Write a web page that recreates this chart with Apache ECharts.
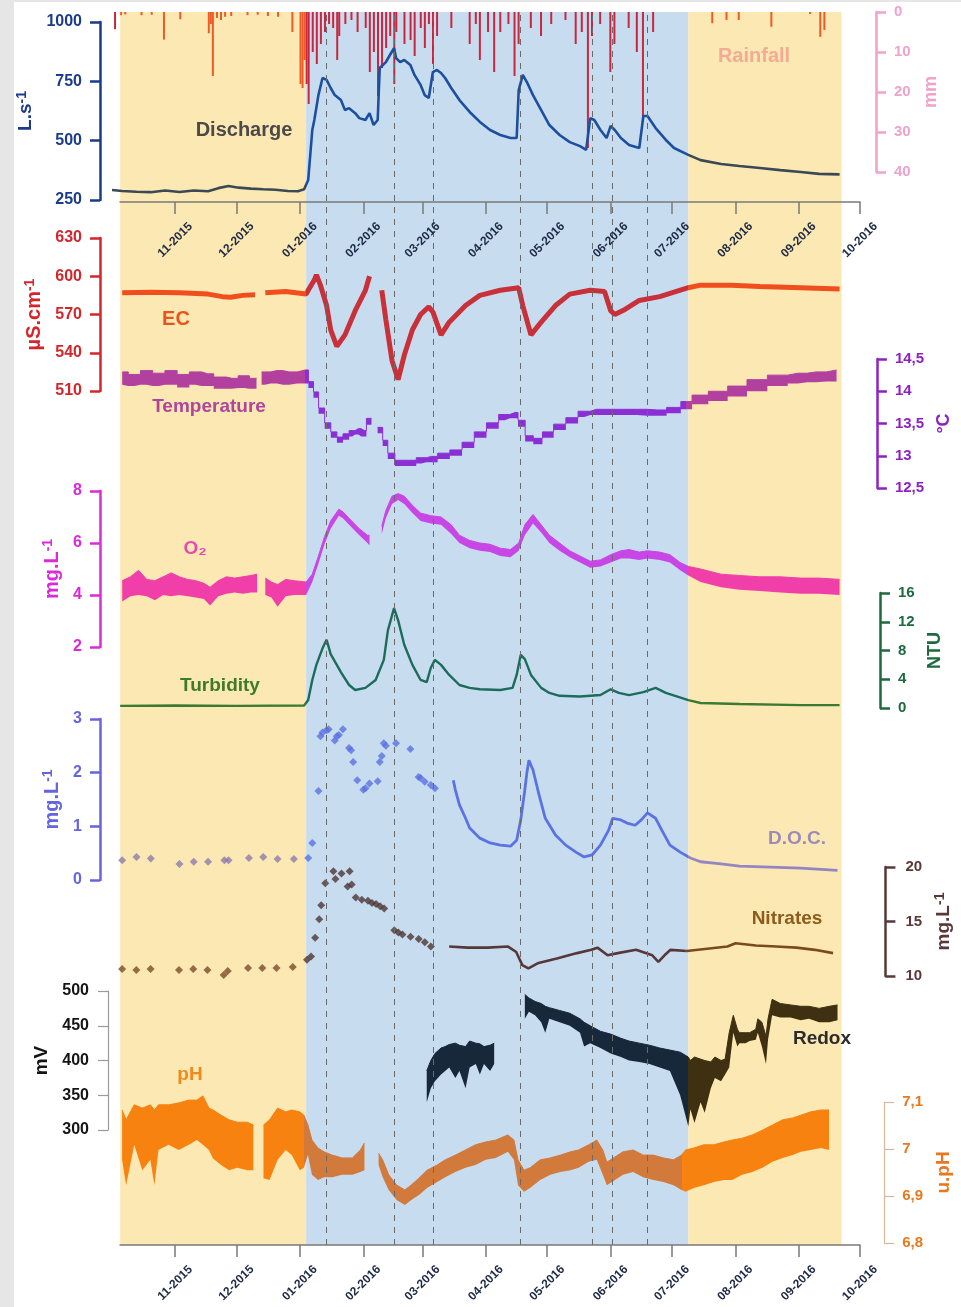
<!DOCTYPE html>
<html lang="en">
<head>
<meta charset="UTF-8">
<title>Spring monitoring 2015-2016</title>
<style>
  html, body { margin: 0; background: #e6e6e6; }
  #sheet { position: absolute; left: 14px; top: 2px; width: 947px; height: 1305px; background: #fff; }
  #main { position: absolute; left: 0; top: 0; width: 961px; height: 1307px; }
</style>
</head>
<body>
<div id="sheet"></div>
<div id="main"></div>
<script src="https://cdn.jsdelivr.net/npm/echarts@6.0.0/dist/echarts.min.js"></script>
<script>
// ---- periods ----
const dryStart = '2015-10-05';
const wetStart = '2016-01-04';
const wetEnd = '2016-07-09';
const dryEnd = '2016-09-22';
const floodDates = ['2016-01-14', '2016-02-16', '2016-03-06', '2016-04-18', '2016-05-23', '2016-06-02', '2016-06-19'];
const monthTicks = ['2015-11-01', '2015-12-01', '2016-01-01', '2016-02-01', '2016-03-01', '2016-04-01',
  '2016-05-01', '2016-06-01', '2016-07-01', '2016-08-01', '2016-09-01', '2016-10-01'];

// ---- discharge (L/s) ----
const discharge = [['2015-10-01',292],['2015-10-06',288],['2015-10-13',285],['2015-10-20',283],['2015-10-27',290],['2015-11-03',284],['2015-11-10',290],['2015-11-17',287],['2015-11-22',300],['2015-11-27',309],['2015-12-02',302],['2015-12-08',298],['2015-12-14',295],['2015-12-20',293],['2015-12-26',288],['2015-12-31',287],['2016-01-03',295],['2016-01-05',334],['2016-01-07',545],['2016-01-08',587],['2016-01-10',692],['2016-01-12',764],['2016-01-14',756],['2016-01-16',722],['2016-01-18',692],['2016-01-21',671],['2016-01-23',629],['2016-01-25',637],['2016-01-28',616],['2016-01-30',595],['2016-02-02',587],['2016-02-04',616],['2016-02-06',566],['2016-02-08',587],['2016-02-09',806],['2016-02-12',831],['2016-02-14',861],['2016-02-16',890],['2016-02-17',848],['2016-02-19',831],['2016-02-21',840],['2016-02-24',819],['2016-02-26',777],['2016-02-29',735],['2016-03-02',692],['2016-03-04',680],['2016-03-06',789],['2016-03-08',798],['2016-03-10',785],['2016-03-12',764],['2016-03-15',722],['2016-03-19',671],['2016-03-24',621],['2016-03-29',579],['2016-04-03',545],['2016-04-08',524],['2016-04-13',511],['2016-04-16',511],['2016-04-17',713],['2016-04-19',777],['2016-04-21',747],['2016-04-24',692],['2016-04-28',629],['2016-05-02',566],['2016-05-07',524],['2016-05-12',494],['2016-05-17',477],['2016-05-20',461],['2016-05-22',595],['2016-05-24',587],['2016-05-27',545],['2016-05-30',511],['2016-06-01',562],['2016-06-03',545],['2016-06-06',511],['2016-06-10',482],['2016-06-15',469],['2016-06-17',604],['2016-06-19',604],['2016-06-23',553],['2016-06-28',503],['2016-07-02',469],['2016-07-09',440],['2016-07-15',418],['2016-07-25',402],['2016-08-03',393],['2016-08-13',385],['2016-08-23',376],['2016-09-02',368],['2016-09-11',360],['2016-09-21',358]];

// ---- rainfall (mm) ----
const rainfall = [['2015-10-02',4.3],['2015-10-05',0.8],['2015-10-07',0.6],['2015-10-15',0.8],['2015-10-20',0.7],['2015-10-26',6.9],['2015-11-03',1.8],['2015-11-17',5.3],['2015-11-18',3],['2015-11-19',16],['2015-11-21',1.5],['2015-11-23',2],['2015-11-25',1.2],['2015-11-28',1],['2015-12-06',0.8],['2015-12-11',0.7],['2015-12-16',1],['2015-12-21',1.2],['2015-12-28',5],['2016-01-01',18],['2016-01-02',19],['2016-01-03',12],
  ['2016-01-04',18],['2016-01-05',23],['2016-01-07',10],['2016-01-09',13],['2016-01-11',8],['2016-01-13',5],['2016-01-15',3],['2016-01-17',4],['2016-01-19',12],['2016-01-20',6],['2016-01-23',3],['2016-01-26',2],['2016-01-29',5],['2016-02-02',4],['2016-02-04',15],['2016-02-06',10],['2016-02-08',21],['2016-02-10',14],['2016-02-12',9],['2016-02-14',6],['2016-02-16',18],['2016-02-17',5],['2016-02-21',8],['2016-02-24',7],['2016-02-26',11],['2016-02-29',4],['2016-03-02',9],['2016-03-04',3],['2016-03-06',13],['2016-03-08',6],['2016-03-15',4],['2016-03-24',8],['2016-03-27',3],['2016-03-29',12],['2016-04-02',5],['2016-04-05',15],['2016-04-08',5],['2016-04-12',3],['2016-04-15',16],['2016-04-17',8],['2016-04-23',4],['2016-04-28',6],['2016-05-03',3],['2016-05-10',2],['2016-05-15',8],['2016-05-18',5],['2016-05-21',34],['2016-05-23',6],['2016-05-27',3],['2016-06-01',15],['2016-06-03',8],['2016-06-10',4],['2016-06-14',10],['2016-06-17',26],['2016-06-22',5],
  ['2016-07-21',2.8],['2016-07-28',2],['2016-08-03',2],['2016-08-19',3.7],['2016-09-07',0.5],['2016-09-12',6.2],['2016-09-14',4.5]];

// ---- electrical conductivity (uS/cm) ----
const ec = [['2015-10-06',587],['2015-10-20',587.5],['2015-11-03',587],['2015-11-17',586],['2015-11-24',584],['2015-11-28',583.5],['2015-12-04',585],['2015-12-10',585.5],['2015-12-12',null],['2015-12-15',587],['2015-12-25',588],['2016-01-04',586],['2016-01-05',589],['2016-01-08',597],['2016-01-09',601],['2016-01-11',593],['2016-01-14',577],['2016-01-16',558],['2016-01-19',545],['2016-01-23',554],['2016-01-28',573],['2016-02-02',589],['2016-02-04',600],['2016-02-07',null],['2016-02-10',589],['2016-02-12',566],['2016-02-15',534],['2016-02-18',519],['2016-02-21',538],['2016-02-25',558],['2016-02-29',570],['2016-03-04',576],['2016-03-06',572],['2016-03-10',554],['2016-03-14',564],['2016-03-22',577],['2016-03-29',585],['2016-04-08',589],['2016-04-17',591],['2016-04-19',577],['2016-04-23',554],['2016-04-28',564],['2016-05-05',577],['2016-05-12',586],['2016-05-22',589],['2016-05-29',588],['2016-06-01',573],['2016-06-03',570],['2016-06-08',574],['2016-06-15',581],['2016-06-25',584],['2016-07-09',591],['2016-07-15',593],['2016-07-30',593],['2016-08-13',592],['2016-09-02',591],['2016-09-21',590]];

// ---- temperature (degC), min / max envelope ----
const tempDates = ['2015-10-06','2015-10-12','2015-10-18','2015-10-24','2015-10-30','2015-11-05','2015-11-11','2015-11-17','2015-11-23','2015-11-29','2015-12-05','2015-12-10','2015-12-12','2015-12-15','2015-12-21','2015-12-27','2016-01-04','2016-01-07','2016-01-09','2016-01-12','2016-01-15','2016-01-18','2016-01-21','2016-01-24','2016-01-27','2016-01-30','2016-02-02','2016-02-04','2016-02-07','2016-02-10','2016-02-12','2016-02-15','2016-02-19','2016-02-25','2016-03-01','2016-03-06','2016-03-12','2016-03-18','2016-03-24','2016-03-30','2016-04-05','2016-04-11','2016-04-16','2016-04-19','2016-04-23','2016-04-27','2016-05-02','2016-05-08','2016-05-14','2016-05-20','2016-05-26','2016-06-05','2016-06-15','2016-06-25','2016-07-04','2016-07-09','2016-07-15','2016-07-25','2016-08-03','2016-08-13','2016-08-23','2016-09-02','2016-09-11','2016-09-21'];
const tempLow = [14.1,14.08,14.1,14.08,14.1,14.06,14.1,14.08,14.04,14.04,14.05,14.04,null,14.1,14.12,14.1,14.12,14.05,13.9,13.65,13.42,13.28,13.2,13.25,13.3,13.33,13.3,13.48,null,13.35,13.15,12.95,12.84,12.84,12.88,12.9,12.95,13.0,13.12,13.28,13.42,13.55,13.58,13.45,13.22,13.18,13.28,13.4,13.5,13.6,13.63,13.63,13.63,13.62,13.66,13.72,13.8,13.85,13.92,14.0,14.08,14.12,14.14,14.15];
const tempHigh = [14.3,14.26,14.32,14.28,14.32,14.26,14.3,14.27,14.22,14.2,14.24,14.2,null,14.3,14.32,14.3,14.33,14.15,13.99,13.74,13.51,13.37,13.29,13.34,13.39,13.42,13.39,13.58,null,13.44,13.24,13.04,12.93,12.93,12.97,12.99,13.04,13.09,13.21,13.37,13.51,13.64,13.67,13.55,13.31,13.27,13.37,13.49,13.59,13.69,13.72,13.72,13.72,13.71,13.75,13.84,13.94,14.0,14.08,14.18,14.25,14.28,14.3,14.33];

// ---- dissolved oxygen (mg/L), min / max envelope ----
const o2Dates = ['2015-10-06','2015-10-10','2015-10-14','2015-10-18','2015-10-22','2015-10-26','2015-10-30','2015-11-03','2015-11-07','2015-11-11','2015-11-15','2015-11-18','2015-11-22','2015-11-26','2015-11-30','2015-12-04','2015-12-08','2015-12-11','2015-12-13','2015-12-15','2015-12-18','2015-12-21','2015-12-25','2015-12-29','2016-01-04','2016-01-07','2016-01-10','2016-01-13','2016-01-16','2016-01-20','2016-01-22','2016-01-25','2016-01-30','2016-02-03','2016-02-04','2016-02-07','2016-02-10','2016-02-12','2016-02-15','2016-02-18','2016-02-21','2016-02-25','2016-02-29','2016-03-05','2016-03-10','2016-03-15','2016-03-19','2016-03-24','2016-03-29','2016-04-03','2016-04-08','2016-04-13','2016-04-17','2016-04-20','2016-04-24','2016-04-28','2016-05-02','2016-05-07','2016-05-12','2016-05-17','2016-05-22','2016-05-27','2016-06-01','2016-06-06','2016-06-10','2016-06-15','2016-06-19','2016-06-25','2016-06-30','2016-07-05','2016-07-09','2016-07-15','2016-07-25','2016-08-03','2016-08-13','2016-08-23','2016-09-02','2016-09-11','2016-09-21'];
const o2Low = [3.75,3.95,4.0,3.95,3.8,4.0,3.95,4.0,3.95,3.9,3.85,3.6,3.95,4.05,4.1,4.05,4.1,4.1,null,4.0,3.9,3.55,3.95,4.0,4.0,4.5,5.2,5.95,6.55,7.05,6.95,6.7,6.3,6.0,5.9,null,6.35,6.95,7.5,7.65,7.5,7.15,6.85,6.75,6.7,6.35,6.0,5.8,5.7,5.65,5.5,5.45,5.7,6.3,6.75,6.4,6.0,5.7,5.45,5.25,5.05,5.1,5.25,5.4,5.4,5.35,5.4,5.35,5.25,4.95,4.75,4.5,4.3,4.2,4.15,4.1,4.05,4.05,4.0];
const o2High = [4.55,4.7,4.95,4.6,4.55,4.7,4.85,4.7,4.6,4.55,4.45,4.3,4.55,4.7,4.65,4.7,4.75,4.8,null,4.65,4.5,4.4,4.6,4.55,4.5,4.8,5.5,6.25,6.85,7.3,7.2,6.95,6.55,6.3,6.3,null,6.65,7.25,7.8,7.9,7.8,7.45,7.15,7.05,7.0,6.7,6.3,6.1,6.0,5.95,5.8,5.75,6.0,6.7,7.1,6.7,6.3,6.0,5.7,5.5,5.3,5.35,5.55,5.7,5.75,5.65,5.7,5.65,5.55,5.25,5.1,5.0,4.8,4.75,4.7,4.7,4.65,4.65,4.6];

// ---- turbidity (NTU) ----
const turbidity = [['2015-10-05',0.3],['2015-11-01',0.35],['2015-12-01',0.3],['2016-01-03',0.35],['2016-01-05',1.1],['2016-01-07',3.9],['2016-01-09',6],['2016-01-12',8.3],['2016-01-14',9.5],['2016-01-16',7.5],['2016-01-21',5],['2016-01-25',3.2],['2016-01-28',2.5],['2016-02-02',2.8],['2016-02-07',3.9],['2016-02-11',6.7],['2016-02-13',10.8],['2016-02-16',13.9],['2016-02-18',12.2],['2016-02-21',8.8],['2016-02-25',6],['2016-02-29',3.9],['2016-03-03',3.6],['2016-03-05',5.6],['2016-03-07',6.7],['2016-03-10',6],['2016-03-14',4.6],['2016-03-19',3.2],['2016-03-24',2.8],['2016-03-29',2.6],['2016-04-08',2.5],['2016-04-14',2.8],['2016-04-16',4.6],['2016-04-18',7.4],['2016-04-20',6.8],['2016-04-23',4.6],['2016-04-28',2.8],['2016-05-02',2.1],['2016-05-07',1.7],['2016-05-17',1.6],['2016-05-27',1.8],['2016-06-01',2.6],['2016-06-05',2.1],['2016-06-10',1.8],['2016-06-17',2.2],['2016-06-23',2.8],['2016-06-28',2.1],['2016-07-09',1.1],['2016-07-15',0.7],['2016-08-03',0.55],['2016-09-02',0.4],['2016-09-21',0.4]];

// ---- dissolved organic carbon (mg/L): grab samples, then probe ----
const docSamples = [['2015-10-06',0.37],['2015-10-13',0.43],['2015-10-20',0.4],['2015-11-03',0.3],['2015-11-10',0.34],['2015-11-17',0.34],['2015-11-25',0.37],['2015-11-27',0.37],['2015-12-07',0.41],['2015-12-14',0.43],['2015-12-21',0.39],['2015-12-29',0.39],['2016-01-05',0.41],['2016-01-07',0.69],['2016-01-10',1.66],['2016-01-11',2.68],['2016-01-12',2.75],['2016-01-14',2.79],['2016-01-15',2.81],['2016-01-18',2.6],['2016-01-19',2.68],['2016-01-20',2.7],['2016-01-22',2.81],['2016-01-25',2.46],['2016-01-26',2.42],['2016-01-27',2.2],['2016-01-29',1.86],['2016-02-01',1.68],['2016-02-02',1.71],['2016-02-04',1.8],['2016-02-08',1.84],['2016-02-09',2.2],['2016-02-10',2.31],['2016-02-11',2.55],['2016-02-12',2.5],['2016-02-17',2.55],['2016-02-24',2.44],['2016-02-28',1.92],['2016-02-29',1.9],['2016-03-02',1.83],['2016-03-05',1.77],['2016-03-07',1.71]];
const docProbe = [['2016-03-16',1.86],['2016-03-17',1.68],['2016-03-19',1.4],['2016-03-22',1.15],['2016-03-24',0.97],['2016-03-29',0.78],['2016-04-03',0.69],['2016-04-08',0.65],['2016-04-13',0.63],['2016-04-16',0.74],['2016-04-18',1.12],['2016-04-20',1.68],['2016-04-21',2.0],['2016-04-22',2.23],['2016-04-24',2.05],['2016-04-27',1.58],['2016-04-30',1.15],['2016-05-05',0.84],['2016-05-10',0.65],['2016-05-15',0.52],['2016-05-19',0.43],['2016-05-23',0.47],['2016-05-27',0.65],['2016-05-31',0.93],['2016-06-02',1.15],['2016-06-06',1.12],['2016-06-09',1.06],['2016-06-13',1.02],['2016-06-16',1.12],['2016-06-19',1.25],['2016-06-23',1.15],['2016-06-26',0.93],['2016-06-30',0.65],['2016-07-05',0.52],['2016-07-10',0.41],['2016-07-15',0.34],['2016-07-25',0.3],['2016-08-03',0.26],['2016-08-18',0.24],['2016-09-02',0.22],['2016-09-20',0.18]];

// ---- nitrates (mg/L): grab samples, then probe ----
const nitrateSamples = [['2015-10-06',10.64],['2015-10-13',10.55],['2015-10-20',10.64],['2015-11-03',10.55],['2015-11-10',10.64],['2015-11-17',10.55],['2015-11-25',10.1],['2015-11-27',10.46],['2015-12-07',10.73],['2015-12-14',10.73],['2015-12-21',10.73],['2015-12-29',10.83],['2016-01-05',11.5],['2016-01-07',11.8],['2016-01-09',13.5],['2016-01-11',15.2],['2016-01-12',16.5],['2016-01-14',18.5],['2016-01-18',19.6],['2016-01-19',18.9],['2016-01-22',19.4],['2016-01-25',18.2],['2016-01-26',19.6],['2016-01-27',18.4],['2016-01-29',17.2],['2016-02-01',17.0],['2016-02-04',16.9],['2016-02-06',16.7],['2016-02-08',16.6],['2016-02-10',16.4],['2016-02-12',16.2],['2016-02-17',14.2],['2016-02-19',14.0],['2016-02-21',13.8],['2016-02-25',13.6],['2016-02-29',13.4],['2016-03-03',13.1],['2016-03-06',12.7]];
const nitrateProbe = [['2016-03-15',12.7],['2016-03-24',12.6],['2016-04-03',12.6],['2016-04-13',12.7],['2016-04-17',12.2],['2016-04-20',11.0],['2016-04-23',10.7],['2016-04-28',11.2],['2016-05-07',11.6],['2016-05-17',12.1],['2016-05-24',12.4],['2016-05-27',12.6],['2016-06-01',11.9],['2016-06-06',12.1],['2016-06-15',12.4],['2016-06-23',11.9],['2016-06-26',11.3],['2016-06-29',11.9],['2016-07-02',12.4],['2016-07-10',12.3],['2016-07-20',12.5],['2016-07-30',12.7],['2016-08-03',13.0],['2016-08-13',12.8],['2016-08-23',12.7],['2016-09-02',12.6],['2016-09-11',12.4],['2016-09-20',12.1]];

// ---- redox potential (mV), min / max envelope ----
const redoxDates = ['2016-03-03','2016-03-05','2016-03-07','2016-03-10','2016-03-12','2016-03-14','2016-03-17','2016-03-19','2016-03-22','2016-03-24','2016-03-27','2016-03-29','2016-03-31','2016-04-03','2016-04-05','2016-04-12','2016-04-20','2016-04-22','2016-04-25','2016-04-28','2016-04-30','2016-05-02','2016-05-07','2016-05-12','2016-05-17','2016-05-19','2016-05-22','2016-05-27','2016-06-01','2016-06-06','2016-06-10','2016-06-15','2016-06-20','2016-06-25','2016-06-30','2016-07-05','2016-07-09','2016-07-10','2016-07-12','2016-07-15','2016-07-17','2016-07-20','2016-07-22','2016-07-25','2016-07-27','2016-07-29','2016-07-31','2016-08-02','2016-08-03','2016-08-06','2016-08-08','2016-08-11','2016-08-12','2016-08-14','2016-08-16','2016-08-17','2016-08-19','2016-08-23','2016-08-28','2016-09-02','2016-09-06','2016-09-11','2016-09-16','2016-09-20'];
const redoxLow = [340,360,370,380,385,390,375,385,360,390,395,380,395,385,395,null,460,470,465,455,440,460,455,450,440,420,425,418,410,405,400,398,395,390,385,350,305,330,310,340,325,360,375,370,380,390,440,420,425,425,428,430,440,420,395,430,465,462,462,458,460,455,455,458];
const redoxHigh = [385,400,410,418,420,423,425,422,420,428,425,424,420,422,425,null,495,490,485,482,478,476,472,468,460,455,450,442,438,432,428,425,422,418,415,412,405,400,405,402,400,398,405,400,402,440,465,445,440,440,440,445,460,455,435,460,488,482,480,478,478,475,478,480];

// ---- pH, min / max envelope ----
const phDates = ['2015-10-06','2015-10-08','2015-10-12','2015-10-16','2015-10-20','2015-10-22','2015-10-24','2015-10-29','2015-11-03','2015-11-08','2015-11-12','2015-11-15','2015-11-18','2015-11-20','2015-11-24','2015-11-28','2015-12-02','2015-12-07','2015-12-10','2015-12-12','2015-12-15','2015-12-18','2015-12-22','2015-12-26','2015-12-29','2016-01-02','2016-01-04','2016-01-06','2016-01-08','2016-01-11','2016-01-14','2016-01-18','2016-01-23','2016-01-28','2016-02-01','2016-02-03','2016-02-07','2016-02-10','2016-02-12','2016-02-15','2016-02-19','2016-02-23','2016-02-26','2016-03-01','2016-03-05','2016-03-10','2016-03-14','2016-03-19','2016-03-24','2016-03-29','2016-04-03','2016-04-08','2016-04-14','2016-04-17','2016-04-19','2016-04-22','2016-04-25','2016-04-30','2016-05-05','2016-05-10','2016-05-15','2016-05-19','2016-05-24','2016-05-28','2016-05-31','2016-06-02','2016-06-06','2016-06-10','2016-06-15','2016-06-20','2016-06-25','2016-06-30','2016-07-05','2016-07-09','2016-07-11','2016-07-15','2016-07-20','2016-07-25','2016-07-30','2016-08-03','2016-08-08','2016-08-13','2016-08-18','2016-08-23','2016-08-28','2016-09-02','2016-09-06','2016-09-11','2016-09-16','2016-09-20'];
const phLow = [6.977,6.923,7.009,6.955,6.977,6.923,6.998,7.009,6.998,7.009,7.019,7.009,6.998,6.98,6.966,6.955,6.96,6.955,6.955,null,6.938,6.934,6.977,6.998,6.987,6.955,6.96,6.987,6.945,6.934,6.94,6.94,6.945,6.945,6.951,6.955,null,6.966,6.94,6.913,6.891,6.881,6.891,6.902,6.917,6.93,6.94,6.951,6.96,6.966,6.977,6.981,6.994,6.977,6.923,6.909,6.917,6.934,6.945,6.951,6.955,6.96,6.973,6.977,6.945,6.923,6.934,6.945,6.951,6.94,6.934,6.93,6.923,6.913,6.909,6.917,6.923,6.93,6.934,6.934,6.945,6.951,6.96,6.973,6.981,6.987,6.994,6.998,7.002,6.998];
const phHigh = [7.083,7.062,7.094,7.087,7.094,7.083,7.094,7.094,7.098,7.104,7.104,7.113,7.087,7.083,7.072,7.062,7.057,7.057,7.051,null,7.051,7.062,7.087,7.079,7.083,7.079,7.072,7.051,7.019,7.002,6.994,6.987,6.981,6.981,6.998,7.013,null,6.991,6.977,6.945,6.923,6.913,6.923,6.938,6.955,6.966,6.977,6.987,6.998,7.009,7.015,7.019,7.030,7.019,6.977,6.955,6.96,6.977,6.981,6.987,6.994,6.998,7.009,7.019,6.998,6.972,6.983,6.994,6.998,6.987,6.987,6.981,6.977,6.987,6.998,7.002,7.009,7.009,7.015,7.019,7.023,7.030,7.040,7.051,7.062,7.066,7.072,7.079,7.083,7.083];

// ---------------------------------------------------------------
const FONT = '"Liberation Sans", Arial, sans-serif';
const YELLOW = '#fce8b2';
const BLUE = '#c8dcef';

function ts(s) { const p = s.split('-').map(Number); return new Date(p[0], p[1] - 1, p[2]).getTime(); }
function monthLabel(v) { const d = new Date(v); return String(d.getMonth() + 1).padStart(2, '0') + '-' + d.getFullYear(); }
function comma(v) { return String(+(+v).toFixed(1)).replace('.', ','); }
function plain(v) { return String(v); }

const chart = echarts.init(document.getElementById('main'), null, { renderer: 'canvas' });

// grids: 0 background, 1 top date axis, 2 bottom date axis, then one per panel
const grid = [
  { left: 112, right: 101, top: 12, height: 1233 },
  { left: 120, right: 101, top: 12, height: 190 },
  { left: 120, right: 101, top: 12, height: 1233 },
  { left: 112, right: 101, top: 22, height: 178 },   // 3 discharge
  { left: 112, right: 101, top: 12, height: 160 },   // 4 rainfall
  { left: 112, right: 101, top: 238, height: 153 },  // 5 EC
  { left: 112, right: 101, top: 359, height: 129 },  // 6 temperature
  { left: 112, right: 101, top: 491, height: 156 },  // 7 O2
  { left: 112, right: 101, top: 593, height: 115 },  // 8 turbidity
  { left: 112, right: 101, top: 719, height: 161 },  // 9 DOC
  { left: 112, right: 101, top: 867, height: 109 },  // 10 nitrates
  { left: 112, right: 101, top: 991, height: 139 },  // 11 redox
  { left: 112, right: 101, top: 1102, height: 141 }  // 12 pH
];

// the two visible date axes are plain value axes over timestamps so the month ticks can be listed
const tickVals = monthTicks.map(ts);
function dateAxis(gridIndex) {
  return {
    gridIndex, type: 'value', min: ts(dryStart), max: ts('2016-10-01'), z: 10,
    axisLine: { lineStyle: { color: '#7a7a7a', width: 1.5 } },
    axisTick: { length: 12, customValues: tickVals, lineStyle: { color: '#7a7a7a', width: 1.5 } },
    axisLabel: {
      customValues: tickVals, formatter: monthLabel, rotate: 45, align: 'center', verticalAlign: 'middle',
      margin: 38, color: '#1e2a46', fontSize: 12, fontWeight: 'bold', fontFamily: FONT
    },
    splitLine: { show: false }
  };
}
const xAxis = grid.map((g, i) => {
  if (i === 1 || i === 2) return dateAxis(i);
  return { gridIndex: i, type: 'time', min: ts('2015-10-01'), max: ts('2016-10-01'), show: false };
});

function valueAxis(gridIndex, o) {
  const lc = o.lineColor || o.color;
  const lw = o.lineWidth || 2.5;
  const size = o.nameSize || 19;
  return {
    type: 'value', gridIndex, position: o.side || 'left', offset: o.offset, z: 5,
    min: o.min, max: o.max, interval: o.interval, inverse: !!o.inverse,
    name: o.sup ? '{b|' + o.name + '}{s|' + o.sup + '}' : o.name,
    nameLocation: 'middle', nameGap: o.nameGap, nameRotate: 90,
    nameTextStyle: {
      color: o.color, fontSize: size, fontWeight: 'bold', fontFamily: FONT,
      rich: {
        b: { color: o.color, fontSize: size, fontWeight: 'bold', fontFamily: FONT, lineHeight: size + 2 },
        s: { color: o.color, fontSize: Math.round(size * 0.72), fontWeight: 'bold', fontFamily: FONT, verticalAlign: 'top', lineHeight: Math.round(size * 0.72) }
      }
    },
    axisLine: { show: true, lineStyle: { color: lc, width: lw } },
    axisTick: { show: true, inside: false, length: 10, lineStyle: { color: lc, width: lw } },
    axisLabel: { color: o.color, fontSize: o.labelSize || 16, fontWeight: 'bold', fontFamily: FONT, margin: o.margin || 18, formatter: o.formatter || plain },
    splitLine: { show: false }
  };
}
const yAxis = [
  { gridIndex: 0, show: false, min: 0, max: 1 },
  { gridIndex: 1, show: false, min: 0, max: 1 },
  { gridIndex: 2, show: false, min: 0, max: 1 },
  valueAxis(3, { min: 250, max: 1000, interval: 250, color: '#1b3c8c', offset: 12, name: 'L.s', sup: '-1', nameGap: 60 }),
  valueAxis(4, { side: 'right', inverse: true, min: 0, max: 40, interval: 10, color: '#f0a2cb', offset: 16, name: 'mm', nameGap: 46, labelSize: 15, nameSize: 18 }),
  valueAxis(5, { min: 510, max: 630, interval: 30, color: '#d3262c', offset: 12, name: 'µS.cm', sup: '-1', nameGap: 54, nameSize: 20 }),
  valueAxis(6, { side: 'right', min: 12.5, max: 14.5, interval: 0.5, color: '#8c22c6', offset: 20, name: '°C', nameGap: 55, labelSize: 15, nameSize: 18, formatter: comma }),
  valueAxis(7, { min: 2, max: 8, interval: 2, color: '#dc2ad8', offset: 12, name: 'mg.L', sup: '-1', nameGap: 35, nameSize: 20 }),
  valueAxis(8, { side: 'right', min: 0, max: 16, interval: 4, color: '#1d6a3f', offset: 20, name: 'NTU', nameGap: 42, labelSize: 15, nameSize: 18 }),
  valueAxis(9, { min: 0, max: 3, interval: 1, color: '#6565e0', offset: 12, name: 'mg.L', sup: '-1', nameGap: 35, nameSize: 20 }),
  valueAxis(10, { side: 'right', min: 10, max: 20, interval: 5, color: '#5a3838', offset: 30, name: 'mg.L', sup: '-1', nameGap: 45, labelSize: 15, nameSize: 19, margin: 20 }),
  valueAxis(11, { min: 300, max: 500, interval: 50, color: '#151515', lineColor: '#9a9a9a', lineWidth: 1.2, offset: 4, name: 'mV', nameGap: 54, margin: 19 }),
  valueAxis(12, { side: 'right', min: 6.8, max: 7.1, interval: 0.1, color: '#e8781e', lineColor: '#d6b8a0', lineWidth: 1.2, offset: 33, name: 'u.pH', nameGap: 46, labelSize: 15, formatter: comma })
];

const series = [];
const visualMap = [];
function add(s) { series.push(s); return series.length - 1; }
function byPeriod(idx, outside, inside, before) {
  visualMap.push({
    type: 'piecewise', show: false, seriesIndex: idx, dimension: 0,
    pieces: [
      { lt: ts(dryStart), color: before || outside },
      { gte: ts(dryStart), lt: ts(wetStart), color: outside },
      { gte: ts(wetStart), lt: ts(wetEnd), color: inside },
      { gte: ts(wetEnd), color: outside }
    ]
  });
}
function line(g, data, width, extra) {
  return Object.assign({ type: 'line', xAxisIndex: g, yAxisIndex: g, data, symbol: 'none', clip: false,
    lineStyle: { width }, silent: true }, extra || {});
}
function band(g, key, dates, low, high, extra) {
  const base = dates.map((d, i) => [d, low[i]]);
  const thick = dates.map((d, i) => [d, low[i] == null ? null : +(high[i] - low[i]).toFixed(3)]);
  const a = add(Object.assign({ type: 'line', xAxisIndex: g, yAxisIndex: g, stack: key, data: base, symbol: 'none',
    clip: false, silent: true, lineStyle: { width: 0, opacity: 0 } }, extra || {}));
  const b = add(Object.assign({ type: 'line', xAxisIndex: g, yAxisIndex: g, stack: key, data: thick, symbol: 'none',
    clip: false, silent: true, lineStyle: { width: 1 }, areaStyle: { opacity: 1 } }, extra || {}));
  return [a, b];
}

// background periods and flood markers
add({
  type: 'line', xAxisIndex: 0, yAxisIndex: 0, data: [['2015-10-01', 0]], symbol: 'none', silent: true, z: -10,
  markArea: {
    silent: true,
    data: [
      [{ xAxis: dryStart, itemStyle: { color: YELLOW } }, { xAxis: wetStart }],
      [{ xAxis: wetStart, itemStyle: { color: BLUE } }, { xAxis: wetEnd }],
      [{ xAxis: wetEnd, itemStyle: { color: YELLOW } }, { xAxis: dryEnd }]
    ]
  },
  markLine: {
    silent: true, symbol: ['none', 'none'], label: { show: false },
    lineStyle: { color: '#6a6a6a', width: 1, type: [6, 6] },
    data: floodDates.map(d => ({ xAxis: d }))
  }
});

const iRain = add({ type: 'bar', xAxisIndex: 4, yAxisIndex: 4, data: rainfall, barWidth: 2, silent: true });
byPeriod(iRain, '#ee5b26', '#c8283f', '#c8283f');

const iQ = add(line(3, discharge, 2.6));
byPeriod(iQ, '#3b4856', '#1d4f9f');

const iEC = add(line(5, ec, 5));
byPeriod(iEC, '#f04e1c', '#c8303a');

band(6, 'temp', tempDates, tempLow, tempHigh, { step: 'middle' }).forEach(i => byPeriod(i, '#b2409e', '#8a2fd4'));
band(7, 'o2', o2Dates, o2Low, o2High).forEach(i => byPeriod(i, '#f03fa8', '#c846e6'));

const iTurb = add(line(8, turbidity, 2.4));
byPeriod(iTurb, '#3b7a32', '#1c6c5c');

const iDocS = add({ type: 'scatter', xAxisIndex: 9, yAxisIndex: 9, data: docSamples, symbol: 'diamond', symbolSize: 8, silent: true });
byPeriod(iDocS, '#8c7bab', '#5a72e2');
const iDocP = add(line(9, docProbe, 2.8));
byPeriod(iDocP, '#9486c4', '#5a72e2');

const iNoS = add({ type: 'scatter', xAxisIndex: 10, yAxisIndex: 10, data: nitrateSamples, symbol: 'diamond', symbolSize: 8, silent: true });
byPeriod(iNoS, '#7b4a28', '#4e3636');
const iNoP = add(line(10, nitrateProbe, 2.6));
byPeriod(iNoP, '#7a4a1e', '#55383a');

band(11, 'redox', redoxDates, redoxLow, redoxHigh).forEach(i => byPeriod(i, '#3e3010', '#17283a'));
band(12, 'ph', phDates, phLow, phHigh).forEach(i => byPeriod(i, '#f7820f', '#d27a3c'));

// in-plot series names
function tag(text, x, y, color, size) {
  return { type: 'text', x, y, silent: true, z: 100,
    style: { text, fill: color, font: 'bold ' + (size || 19) + 'px ' + FONT, align: 'center', verticalAlign: 'middle',
      textAlign: 'center', textVerticalAlign: 'middle' } };
}
const graphic = [
  tag('Discharge', 244, 130, '#4a4a4a', 20),
  tag('Rainfall', 754, 56, '#f4ab96', 20),
  tag('EC', 176, 319, '#e8541e', 20),
  tag('Temperature', 209, 407, '#b0459c'),
  tag('O₂', 195, 549, '#e64ab0'),
  tag('Turbidity', 220, 686, '#3d7b2a'),
  tag('D.O.C.', 797, 839, '#9b8bbb'),
  tag('Nitrates', 787, 919, '#8c5c1c'),
  tag('Redox', 822, 1039, '#2b2b2b'),
  tag('pH', 190, 1075, '#f08a1e')
];

chart.setOption({
  animation: false,
  backgroundColor: 'transparent',
  textStyle: { fontFamily: FONT },
  grid, xAxis, yAxis, visualMap, series, graphic
});
</script>
</body>
</html>
